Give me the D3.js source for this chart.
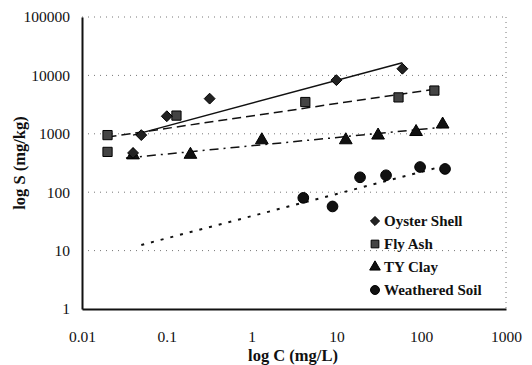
<!DOCTYPE html>
<html>
<head>
<meta charset="utf-8">
<script src="https://cdn.jsdelivr.net/npm/d3@7"></script>
<style>
  body { margin: 0; background: #fff; }
  svg { display: block; font-family: "Liberation Serif", "Times New Roman", serif; }
</style>
</head>
<body>
<svg id="chart" width="532" height="365"></svg>
<script>
// values (C in mg/L, S in mg/kg)
const oysterC = [0.04, 0.05, 0.1, 0.32, 10, 60]
const oysterS = [470, 950, 2000, 4000, 8300, 13000]
const flyC = [0.02, 0.02, 0.13, 4.3, 54, 143]
const flyS = [950, 490, 2050, 3500, 4200, 5500]
const clayC = [0.04, 0.19, 1.32, 12.9, 31, 87, 179]
const clayS = [430, 440, 780, 780, 940, 1080, 1450]
const soilC = [4.07, 9, 19, 38.5, 97, 191]
const soilS = [80, 57, 180, 195, 270, 250]
// trend line end points [C, S]
const oysterTrend = [[0.04, 950], [60, 16500]]
const flyTrend = [[0.02, 880], [143, 5800]]
const clayTrend = [[0.033, 385], [180, 1300]]
const soilTrend = [[0.05, 12.5], [200, 290]]

const xTicks = [0.01, 0.1, 1, 10, 100, 1000]
const yTicks = [1, 10, 100, 1000, 10000, 100000]
const legendNames = ['Oyster Shell', 'Fly Ash', 'TY Clay', 'Weathered Soil']

let svg = d3.select('#chart')
const plotL = 82, plotR = 506, plotT = 17, plotB = 309

let x = d3.scaleLog().domain([0.01, 1000]).range([plotL, plotR])
let y = d3.scaleLog().domain([1, 100000]).range([plotB, plotT])

// grid lines (dotted, faint)
svg.append('g').selectAll('line').data(yTicks.slice(1)).enter().append('line')
  .attr('x1', plotL).attr('x2', plotR)
  .attr('y1', d => y(d)).attr('y2', d => y(d))
  .attr('stroke', '#777').attr('stroke-width', 1).attr('stroke-dasharray', '1,5')

// right border dotted
svg.append('line').attr('x1', plotR).attr('x2', plotR).attr('y1', plotT).attr('y2', plotB)
  .attr('stroke', '#777').attr('stroke-dasharray', '1,4')

// axes
let xAxis = svg.append('g').attr('transform', `translate(0,${plotB})`)
  .call(d3.axisBottom(x).tickValues(xTicks).tickSize(0).tickPadding(22).tickFormat(d => d3.format('~g')(d)))
let yAxis = svg.append('g').attr('transform', `translate(${plotL},0)`)
  .call(d3.axisLeft(y).tickValues(yTicks).tickSize(0).tickPadding(12).tickFormat(d => d3.format('d')(d)))
;[xAxis, yAxis].forEach(a => {
  a.select('.domain').attr('stroke', '#111').attr('stroke-width', 2)
  a.selectAll('text').attr('font-family', '"Liberation Serif", serif').attr('font-size', 15.5).attr('fill', '#111')
})

// axis titles
svg.append('text').attr('x', 293).attr('y', 361).attr('text-anchor', 'middle')
  .attr('font-weight', 'bold').attr('font-size', 16.5).attr('fill', '#111').text('log C (mg/L)')
svg.append('text').attr('transform', 'translate(25,163) rotate(-90)').attr('text-anchor', 'middle')
  .attr('font-weight', 'bold').attr('font-size', 16.5).attr('fill', '#111').text('log S (mg/kg)')

// trend lines
const line = d3.line().x(d => x(d[0])).y(d => y(d[1]))
const trends = [
  {pts: oysterTrend, dash: null, w: 1.5},
  {pts: flyTrend, dash: '9,5', w: 1.5},
  {pts: clayTrend, dash: '9,5,2,5', w: 1.5},
  {pts: soilTrend, dash: '3,7', w: 2}
]
svg.append('g').selectAll('path').data(trends).enter().append('path')
  .attr('d', d => line(d.pts)).attr('fill', 'none').attr('stroke', '#111')
  .attr('stroke-width', d => d.w).attr('stroke-dasharray', d => d.dash)

// markers
const shapes = [
  {sym: d3.symbolDiamond2, size: 75, fill: '#222'},
  {sym: d3.symbolSquare, size: 85, fill: '#444'},
  {sym: d3.symbolTriangle, size: 70, fill: '#111'},
  {sym: d3.symbolCircle, size: 90, fill: '#111'}
]
const series = [
  {c: flyC, s: flyS, k: 1},
  {c: clayC, s: clayS, k: 2},
  {c: soilC, s: soilS, k: 3},
  {c: oysterC, s: oysterS, k: 0}
]
series.forEach(ser => {
  const sh = shapes[ser.k]
  svg.append('g').selectAll('path').data(d3.zip(ser.c, ser.s)).enter().append('path')
    .attr('transform', d => `translate(${x(d[0])},${y(d[1])})`)
    .attr('d', d3.symbol().type(sh.sym).size(sh.size))
    .attr('fill', sh.fill).attr('stroke', '#000').attr('stroke-width', 1)
})

// legend
let legend = svg.append('g').selectAll('g').data(legendNames).enter().append('g')
  .attr('transform', (d, i) => `translate(375,${221 + i * 23})`)
legend.append('path')
  .attr('d', (d, i) => d3.symbol().type(shapes[i].sym).size(shapes[i].size * 0.7)())
  .attr('fill', (d, i) => shapes[i].fill).attr('stroke', '#000')
legend.append('text').attr('x', 9).attr('dy', '0.35em')
  .attr('font-weight', 'bold').attr('font-size', 15).attr('fill', '#111').text(d => d)
</script>
</body>
</html>
